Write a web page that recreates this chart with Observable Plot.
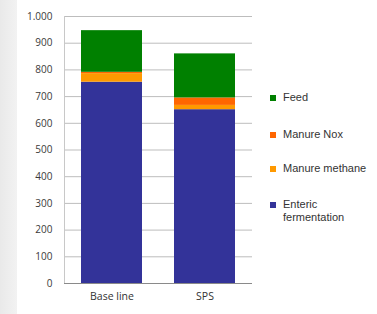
<!DOCTYPE html>
<html>
<head>
<meta charset="utf-8">
<script src="https://cdn.jsdelivr.net/npm/d3@7"></script>
<script src="https://cdn.jsdelivr.net/npm/@observablehq/plot@0.6"></script>
<style>
  html, body { margin: 0; padding: 0; }
  body { width: 377px; height: 314px; position: relative; overflow: hidden; background: #fff; }
  #strip { position: absolute; left: 0; top: 0; width: 17px; height: 314px; background: linear-gradient(to right, #e9e9e9, #f2f2f2); }
  #chart { position: absolute; left: 0; top: 0; }
  .legend { position: absolute; left: 270px; font-family: "Liberation Sans", Arial, sans-serif; font-size: 11px; color: #333; line-height: 13px; }
  .legend .sw { position: absolute; left: 0; top: 4px; width: 6px; height: 6px; }
  .legend .tx { margin-left: 13px; white-space: nowrap; }
</style>
</head>
<body>
<div id="strip"></div>
<div id="chart"></div>
<div id="legend"></div>
<script>
const categories = ["Base line", "SPS"];
const series = ["Enteric fermentation", "Manure methane", "Manure Nox", "Feed"];
const colors = ["#333399", "#ff9900", "#ff6600", "#008000"];
const enteric = [754, 651];
const manureMethane = [32, 16];
const manureNox = [5, 28];
const feed = [156, 165];
const yTicks = [0, 100, 200, 300, 400, 500, 600, 700, 800, 900, 1000];
const legendOrder = ["Feed", "Manure Nox", "Manure methane", "Enteric fermentation"];
const legendLabels = ["Feed", "Manure Nox", "Manure methane", "Enteric<br>fermentation"];

const values = [enteric, manureMethane, manureNox, feed];
const data = [];
series.forEach((s, i) => categories.forEach((c, j) => data.push({category: c, series: s, value: values[i][j]})));

const fmt = d3.formatLocale({decimal: ",", thousands: ".", grouping: [3], currency: ["", ""]}).format(",");

const plot = Plot.plot({
  width: 377,
  height: 314,
  marginLeft: 64,
  marginRight: 125,
  marginTop: 16,
  marginBottom: 31,
  style: {background: "transparent", fontFamily: "'Open Sans', sans-serif", fontSize: "10px", color: "#3a3a3a"},
  x: {domain: categories, paddingInner: 0.348, paddingOuter: 0.18, label: null, tickSize: 0, tickPadding: 9},
  y: {domain: [0, 1000], ticks: yTicks, tickFormat: fmt, label: null, tickSize: 0, tickPadding: 12},
  color: {domain: series, range: colors},
  marks: [
    Plot.gridY(yTicks, {stroke: "#bdbdbd", strokeOpacity: 1, strokeWidth: 1}),
    Plot.frame({anchor: "left", stroke: "#c8c8c8", strokeOpacity: 1}),
    Plot.barY(data, {x: "category", y: "value", fill: "series", order: series}),
    Plot.ruleY([0], {stroke: "#8a8a8a", strokeWidth: 1.2}),
    Plot.axisY({ticks: yTicks, tickFormat: fmt, tickSize: 0, tickPadding: 12, fill: "#3a3a3a"}),
    Plot.axisX({tickSize: 0, tickPadding: 9, fill: "#333", fontSize: 10.5})
  ]
});
document.getElementById("chart").appendChild(plot);

const legendTops = [91, 128, 162, 198];
const leg = document.getElementById("legend");
legendOrder.forEach((s, i) => {
  const d = document.createElement("div");
  d.className = "legend";
  d.style.top = legendTops[i] + "px";
  d.innerHTML = `<span class="sw" style="background:${colors[series.indexOf(s)]}"></span><div class="tx">${legendLabels[i]}</div>`;
  leg.appendChild(d);
});
</script>
</body>
</html>
